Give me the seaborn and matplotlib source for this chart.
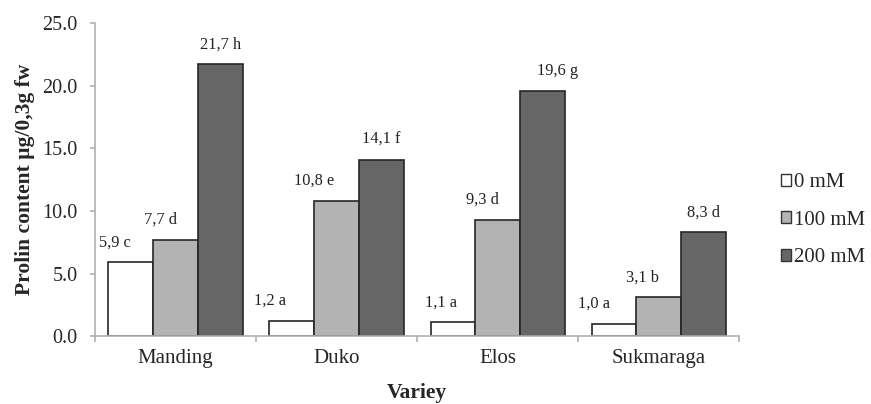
import numpy as np
import pandas as pd
import matplotlib
matplotlib.use('Agg')
import matplotlib.pyplot as plt
import seaborn as sns
from matplotlib.ticker import FixedLocator, NullFormatter
from matplotlib.transforms import offset_copy

varieties = ['Manding', 'Duko', 'Elos', 'Sukmaraga']
treatments = ['0 mM', '100 mM', '200 mM']
values = {
    '0 mM': [5.9, 1.2, 1.1, 1.0],
    '100 mM': [7.7, 10.8, 9.3, 3.1],
    '200 mM': [21.7, 14.1, 19.6, 8.3],
}
letters = {
    '0 mM': ['c', 'a', 'a', 'a'],
    '100 mM': ['d', 'e', 'd', 'b'],
    '200 mM': ['h', 'f', 'g', 'd'],
}
# horizontal nudges of the value labels (pixels), as placed in the original
label_dx = {
    '0 mM': [-16, -22, -12, -20],
    '100 mM': [-15, -23, -15, -16],
    '200 mM': [0, 0, 15, 0],
}

df = pd.DataFrame(
    [(v, t, values[t][i]) for t in treatments for i, v in enumerate(varieties)],
    columns=['variety', 'treatment', 'prolin'],
)

sns.set_style('white')
plt.rcParams['font.family'] = ['Liberation Serif', 'DejaVu Serif']

fig = plt.figure(figsize=(8.71, 4.04), dpi=100)
ax = fig.add_axes([0.109, 0.168, 0.740, 0.775])

palette = {'0 mM': '#ffffff', '100 mM': '#b3b3b3', '200 mM': '#666666'}
sns.barplot(data=df, x='variety', y='prolin', hue='treatment',
            order=varieties, hue_order=treatments, palette=palette,
            width=0.835, edgecolor='#262626', linewidth=1.2, saturation=1,
            ax=ax)

for t, cont in zip(treatments, ax.containers):
    for i, bar in enumerate(cont):
        x = bar.get_x() + bar.get_width() / 2
        h = bar.get_height()
        tr = offset_copy(ax.transData, fig=fig, x=label_dx[t][i] * 0.72,
                         y=12 * 0.72, units='points')
        ax.text(x, h, f"{values[t][i]:.1f}".replace('.', ',') + ' ' + letters[t][i],
                transform=tr, ha='center', va='bottom', fontsize=11.8,
                color='#222222')

ax.set_xlim(-0.5, len(varieties) - 0.5)
ax.set_ylim(0, 25)
ax.set_yticks(np.arange(0, 25.1, 5))
ax.set_yticklabels([f"{v:.1f}" for v in np.arange(0, 25.1, 5)])
ax.xaxis.set_minor_locator(FixedLocator(np.arange(-0.5, len(varieties), 1)))
ax.xaxis.set_minor_formatter(NullFormatter())
ax.tick_params(axis='x', which='major', length=0, pad=9, labelsize=15)
ax.tick_params(axis='x', which='minor', length=4, width=1.2, color='#b0b0b0',
               direction='out', bottom=True)
ax.tick_params(axis='y', length=3.5, width=1.2, color='#b0b0b0', direction='out',
               left=True, labelsize=14.5, pad=9)

for side in ['top', 'right']:
    ax.spines[side].set_visible(False)
for side in ['left', 'bottom']:
    ax.spines[side].set_color('#b0b0b0')
    ax.spines[side].set_linewidth(1.2)

ax.set_xlabel('Variey', fontsize=15.5, fontweight='bold', labelpad=11)
ax.set_ylabel('Prolin content µg/0,3g fw', fontsize=15.5, fontweight='bold',
              labelpad=5)

leg = ax.legend(loc='center left', bbox_to_anchor=(1.048, 0.37), frameon=False,
                fontsize=15, handlelength=0.5, handleheight=0.5,
                handletextpad=0.15, labelspacing=0.89, borderpad=0)
for h in leg.legend_handles:
    h.set_linewidth(1.0)
    h.set_edgecolor('#333333')

fig.savefig('out.png', dpi=100)
